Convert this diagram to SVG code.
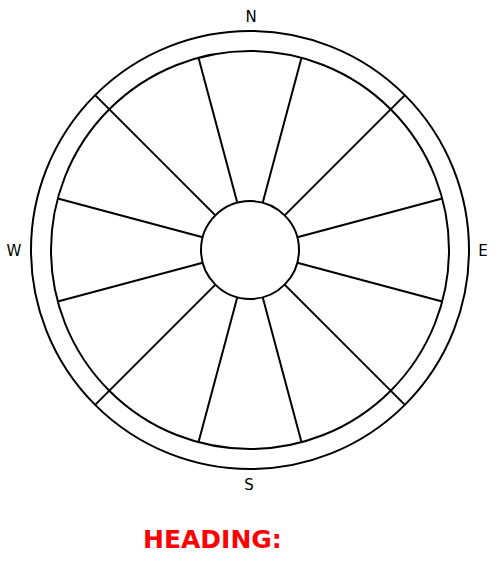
<svg xmlns="http://www.w3.org/2000/svg" width="500" height="570" viewBox="0 0 500 570">
<style>
.c{fill:none;stroke:#000;stroke-width:2}
.l{stroke:#000;stroke-width:2;fill:none}
.lab{font-family:"DejaVu Sans",sans-serif;font-size:15px;fill:#000;text-anchor:middle}
.h{font-family:"DejaVu Sans",sans-serif;font-size:25px;font-weight:bold;fill:#ff0000}
</style>
<rect width="500" height="570" fill="#fff"/>
<g id="rings">
<circle class="c" cx="250" cy="250" r="219"/>
<circle class="c" cx="250" cy="250" r="199"/>
</g>
<g id="connectors">
<line class="l" x1="237.3" y1="202.7" x2="198.5" y2="57.8"/>
<line class="l" x1="262.7" y1="202.7" x2="301.5" y2="57.8"/>
<line class="l" x1="237.3" y1="297.3" x2="198.5" y2="442.2"/>
<line class="l" x1="262.7" y1="297.3" x2="301.5" y2="442.2"/>
<line class="l" x1="202.7" y1="237.3" x2="57.8" y2="198.5"/>
<line class="l" x1="202.7" y1="262.7" x2="57.8" y2="301.5"/>
<line class="l" x1="297.3" y1="237.3" x2="442.2" y2="198.5"/>
<line class="l" x1="297.3" y1="262.7" x2="442.2" y2="301.5"/>
<line class="l" x1="215.4" y1="215.4" x2="95.1" y2="95.1"/>
<line class="l" x1="284.6" y1="215.4" x2="404.9" y2="95.1"/>
<line class="l" x1="215.4" y1="284.6" x2="95.1" y2="404.9"/>
<line class="l" x1="284.6" y1="284.6" x2="404.9" y2="404.9"/>
</g>
<g id="hub">
<circle cx="250" cy="250" r="49" fill="#fff" stroke="#000" stroke-width="2"/>
</g>
<g id="labels">
<text class="lab" x="251" y="22">N</text>
<text class="lab" x="249" y="490">S</text>
<text class="lab" x="14" y="256">W</text>
<text class="lab" x="483" y="256">E</text>
</g>
<g id="heading">
<text class="h" x="143" y="548">HEADING:</text>
</g>
</svg>
